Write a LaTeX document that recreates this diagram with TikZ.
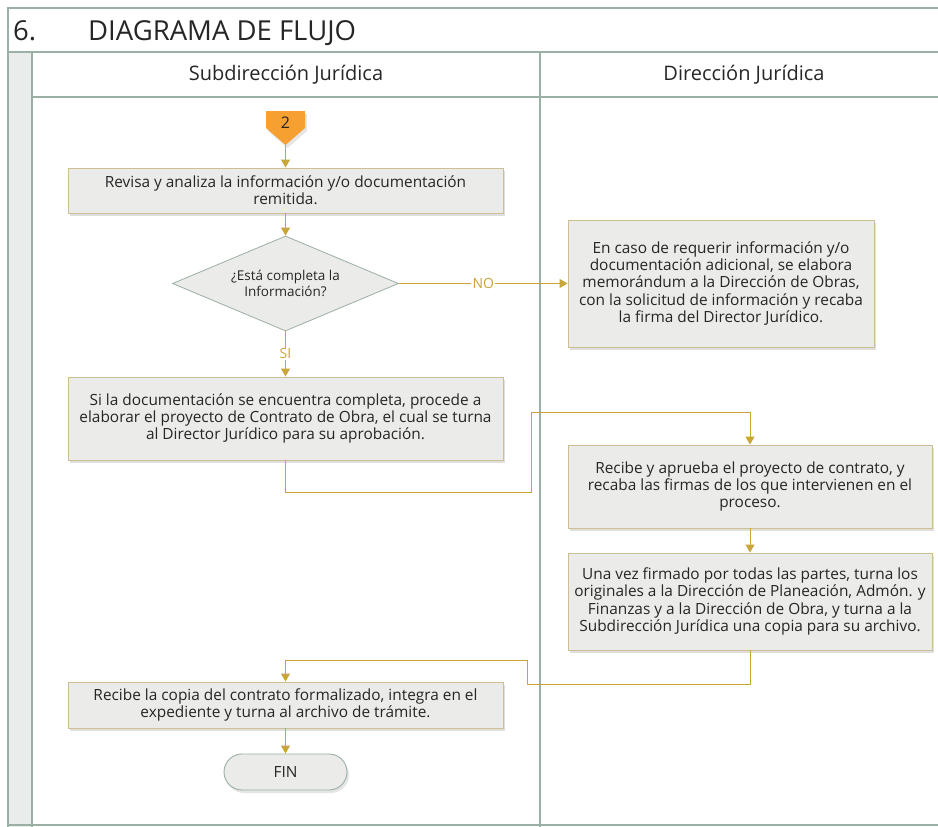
\documentclass[tikz,border=0pt]{standalone}
\usepackage{fontspec}
\setmainfont{Open Sans}
\usetikzlibrary{shapes.geometric,shadows,arrows.meta}
\definecolor{frameline}{HTML}{9AB0A4}
\definecolor{stripfill}{HTML}{E9ECEA}
\definecolor{gold}{HTML}{C9A63A}
\definecolor{boxfill}{HTML}{EBEBEA}
\definecolor{boxline}{HTML}{CDBF93}
\definecolor{orangec}{HTML}{F7A032}
\definecolor{txt}{HTML}{262626}
\tikzset{
  lane/.style={draw=frameline, line width=1.2pt},
  proc/.style={draw=boxline, fill=boxfill, line width=0.9pt, align=center,
    inner sep=0pt, text=txt, font=\fontsize{15.4}{17.2}\selectfont,
    drop shadow={opacity=0.25, shadow xshift=2pt, shadow yshift=-3pt}},
  decision/.style={diamond, draw=frameline, fill=boxfill, line width=0.8pt,
    align=center, inner sep=0pt, text=txt, font=\fontsize{13.5}{16.5}\selectfont,
    minimum width=226pt, minimum height=95pt, aspect=2.38},
  terminal/.style={draw=frameline, fill=boxfill, line width=0.9pt, rounded corners=18pt,
    minimum width=123pt, minimum height=36pt, inner sep=0pt, text=txt,
    font=\fontsize{15.4}{18}\selectfont,
    drop shadow={opacity=0.2, shadow xshift=2pt, shadow yshift=-3pt}},
  flow/.style={draw=gold, line width=1pt, -{Triangle[width=9pt,length=8pt]}},
  flowlabel/.style={fill=white, inner sep=1pt, text=gold, font=\fontsize{14}{16}\selectfont},
  header/.style={text=txt, font=\fontsize{20}{24}\selectfont}
}
\begin{document}
\begin{tikzpicture}[x=1pt,y=-1pt]
\useasboundingbox (0,0) rectangle (938,827);
\fill[white] (0,0) rectangle (938,827);

% frame of the swimlane table
\fill[stripfill] (8,52) rectangle (32,827);
\draw[lane] (938,8) -- (8,8) -- (8,827);
\draw[lane] (8,52) -- (938,52);
\draw[lane] (32,52) -- (32,827);
\draw[lane] (32,97) -- (938,97);
\draw[lane] (540,52) -- (540,827);
\draw[lane] (8,825) -- (938,825);

% title and lane headers
\node[anchor=base west, inner sep=0pt, text=txt, font=\fontsize{27.5}{32}\selectfont] (num) at (13,40) {6.};
\node[anchor=base west, inner sep=0pt, text=txt, font=\fontsize{27.5}{32}\selectfont] (title) at (88,40) {DIAGRAMA DE FLUJO};
\node[header] (h1) at (286,75) {Subdirección Jurídica};
\node[header] (h2) at (744,75) {Dirección Jurídica};

% off-page connector
\fill[orangec, drop shadow={opacity=0.2, shadow xshift=2pt, shadow yshift=-3pt}]
  (266,111) -- (305,111) -- (305,128) -- (285.5,145) -- (266,128) -- cycle;
\node[text=txt, font=\fontsize{16}{18}\selectfont] (c2) at (285.5,123) {2};
\coordinate (c2tip) at (285.5,145);

% process steps
\node[proc, minimum width=435pt, minimum height=45pt] (b1) at (285.5,190.5)
  {Revisa y analiza la información y/o documentación\\remitida.};
\node[decision] (d1) at (285.5,283.5) {¿Está completa la\\Información?};
\node[proc, minimum width=306pt, minimum height=127pt] (b2) at (721,283.5)
  {En caso de requerir información y/o\\documentación adicional, se elabora\\memorándum a la Dirección de Obras,\\con la solicitud de información y recaba\\la firma del Director Jurídico.};
\node[proc, minimum width=435pt, minimum height=83pt] (b3) at (285.5,418.5)
  {Si la documentación se encuentra completa, procede a\\elaborar el proyecto de Contrato de Obra, el cual se turna\\al Director Jurídico para su aprobación.};
\node[proc, minimum width=364pt, minimum height=83pt] (b4) at (750,486.5)
  {Recibe y aprueba el proyecto de contrato, y\\recaba las firmas de los que intervienen en el\\proceso.};
\node[proc, minimum width=364pt, minimum height=97pt] (b5) at (750,601.5)
  {Una vez firmado por todas las partes, turna los\\originales a la Dirección de Planeación, Admón. y\\Finanzas y a la Dirección de Obra, y turna a la\\Subdirección Jurídica una copia para su archivo.};
\node[proc, minimum width=435pt, minimum height=46pt] (b6) at (285.5,705)
  {Recibe la copia del contrato formalizado, integra en el\\expediente y turna al archivo de trámite.};
\node[terminal] (fin) at (285.5,772) {FIN};

% connectors
\draw[flow] (c2tip) -- (b1.north);
\draw[flow] (b1.south) -- (d1.north);
\draw[flow] (d1.east) -- node[flowlabel, pos=0.5] {NO} (b2.west);
\draw[flow] (d1.south) -- node[flowlabel, pos=0.5] {SI} (b3.north);
\draw[flow] (b3.south) -- ++(0,32) -| (531,412) -| (b4.north);
\draw[flow] (b4.south) -- (b5.north);
\draw[flow] (b5.south) -- ++(0,34) -| (527,660) -| (b6.north);
\draw[flow] (b6.south) -- (fin.north);
\end{tikzpicture}
\end{document}
